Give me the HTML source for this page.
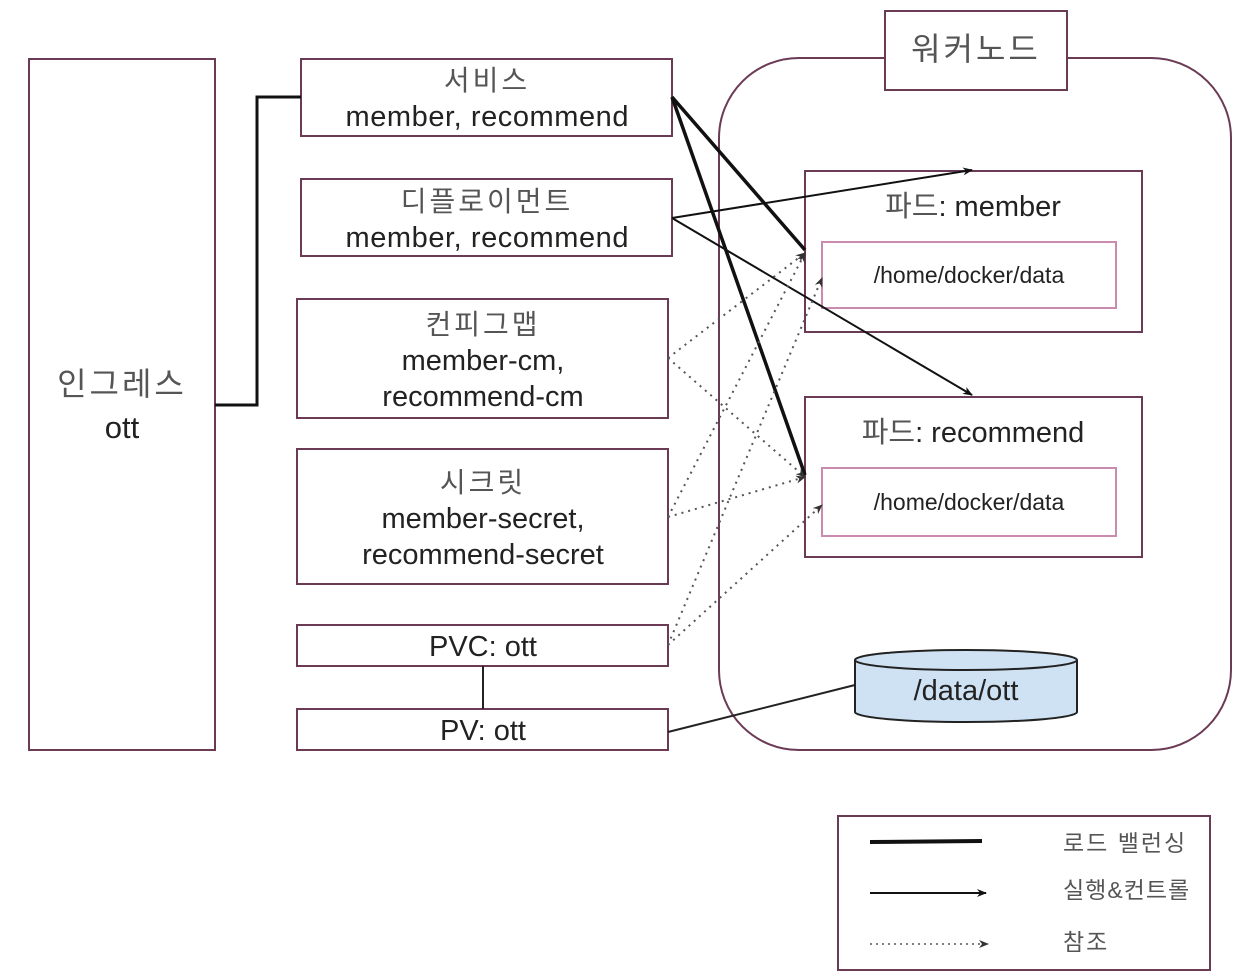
<!DOCTYPE html>
<html><head><meta charset="utf-8"><style>
html,body{margin:0;padding:0;background:#fff;}
svg{display:block;}
text{font-family:"Liberation Sans","Noto Sans CJK KR",sans-serif;}
.k{fill:#555;font-size:28px;letter-spacing:3px;}
.e{fill:#222;font-size:29px;}
</style></head><body>
<svg width="1244" height="980" viewBox="0 0 1244 980" xmlns="http://www.w3.org/2000/svg">
<defs>
<marker id="a" markerWidth="10" markerHeight="8" refX="9" refY="4" orient="auto" markerUnits="userSpaceOnUse"><path d="M0,0 L10,4 L0,8 L3,4z" fill="#111"/></marker>
<marker id="d" markerWidth="10" markerHeight="8" refX="9" refY="4" orient="auto" markerUnits="userSpaceOnUse"><path d="M0,0 L10,4 L0,8 L3,4z" fill="#333"/></marker>
</defs>
<g fill="none" stroke="#6b3a55" stroke-width="2">
<rect x="719" y="58" width="512" height="692" rx="80"/>
<rect x="29" y="59" width="186" height="691"/>
<rect x="301" y="59" width="371" height="77"/>
<rect x="301" y="179" width="371" height="77"/>
<rect x="297" y="299" width="371" height="119"/>
<rect x="297" y="449" width="371" height="135"/>
<rect x="297" y="625" width="371" height="41"/>
<rect x="297" y="709" width="371" height="41"/>
<rect x="805" y="171" width="337" height="161"/>
<rect x="805" y="397" width="337" height="160"/>
<rect x="838" y="816" width="372" height="154"/>
</g>
<rect x="885" y="11" width="182" height="79" fill="#fff" stroke="#6b3a55" stroke-width="2"/>
<g fill="none" stroke="#c98bb0" stroke-width="2">
<rect x="822" y="242" width="294" height="66"/>
<rect x="822" y="468" width="294" height="68"/>
</g>
<path d="M855,660 L855,712 A111,10 0 0 0 1077,712 L1077,660" fill="#cfe2f3" stroke="#222" stroke-width="2"/>
<ellipse cx="966" cy="660" rx="111" ry="10" fill="#cfe2f3" stroke="#222" stroke-width="2"/>
<text x="966" y="700" text-anchor="middle" class="e">/data/ott</text>
<polyline points="215,405 257,405 257,97 301,97" fill="none" stroke="#111" stroke-width="3"/>
<line x1="483" y1="666" x2="483" y2="709" stroke="#222" stroke-width="2"/>
<line x1="668" y1="732" x2="855" y2="685" stroke="#222" stroke-width="2"/>
<g stroke="#111" stroke-width="3.5" fill="none">
<line x1="672" y1="97" x2="805" y2="250"/>
<line x1="672" y1="97" x2="805" y2="475"/>
</g>
<g stroke="#111" stroke-width="2" marker-end="url(#a)">
<line x1="672" y1="218" x2="972" y2="170"/>
<line x1="672" y1="218" x2="972" y2="395"/>
</g>
<g stroke="#555" stroke-width="2" stroke-dasharray="2,5" marker-end="url(#d)">
<line x1="668" y1="358" x2="805" y2="253"/>
<line x1="668" y1="358" x2="805" y2="477"/>
<line x1="668" y1="517" x2="805" y2="253"/>
<line x1="668" y1="517" x2="805" y2="477"/>
<line x1="668" y1="645" x2="822" y2="278"/>
<line x1="668" y1="645" x2="822" y2="505"/>
</g>
<text x="976" y="60" text-anchor="middle" class="k" style="font-size:32px">워커노드</text>
<text x="122" y="395" text-anchor="middle" class="k" style="font-size:32px">인그레스</text>
<text x="122" y="438" text-anchor="middle" class="e" style="font-size:31px">ott</text>
<text x="487" y="90" text-anchor="middle" class="k">서비스</text>
<text x="487" y="126" text-anchor="middle" class="e" textLength="283">member, recommend</text>
<text x="487" y="211" text-anchor="middle" class="k">디플로이먼트</text>
<text x="487" y="247" text-anchor="middle" class="e" textLength="283">member, recommend</text>
<text x="483" y="334" text-anchor="middle" class="k">컨피그맵</text>
<text x="483" y="370" text-anchor="middle" class="e">member-cm,</text>
<text x="483" y="406" text-anchor="middle" class="e">recommend-cm</text>
<text x="483" y="492" text-anchor="middle" class="k">시크릿</text>
<text x="483" y="528" text-anchor="middle" class="e">member-secret,</text>
<text x="483" y="564" text-anchor="middle" class="e">recommend-secret</text>
<text x="483" y="656" text-anchor="middle" class="e">PVC: ott</text>
<text x="483" y="740" text-anchor="middle" class="e">PV: ott</text>
<text x="973" y="216" text-anchor="middle" class="e"><tspan fill="#555">파드</tspan>: member</text>
<text x="973" y="442" text-anchor="middle" class="e"><tspan fill="#555">파드</tspan>: recommend</text>
<text x="969" y="283" text-anchor="middle" fill="#222" font-size="23">/home/docker/data</text>
<text x="969" y="510" text-anchor="middle" fill="#222" font-size="23">/home/docker/data</text>
<line x1="870" y1="842" x2="982" y2="841" stroke="#111" stroke-width="4"/>
<line x1="870" y1="893" x2="986" y2="893" stroke="#111" stroke-width="2" marker-end="url(#a)"/>
<line x1="870" y1="944" x2="988" y2="944" stroke="#555" stroke-width="1.5" stroke-dasharray="2,4" marker-end="url(#d)"/>
<text x="1063" y="851" fill="#555" font-size="23" style="letter-spacing:2px">로드 밸런싱</text>
<text x="1063" y="898" fill="#555" font-size="23" style="letter-spacing:1px">실행&amp;컨트롤</text>
<text x="1063" y="950" fill="#555" font-size="23" style="letter-spacing:2px">참조</text>
</svg>
</body></html>
